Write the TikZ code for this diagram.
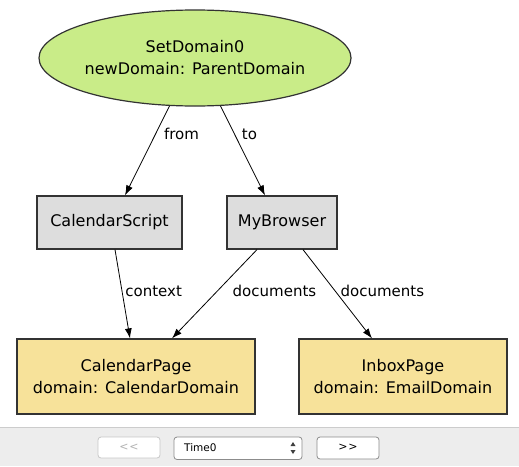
\documentclass[tikz,border=0pt]{standalone}
\usepackage{fontspec}
\setmainfont{DejaVu Sans}
\usepackage{xcolor}
\usetikzlibrary{shapes.geometric,arrows.meta,positioning,calc}
\definecolor{actgreen}{HTML}{C9EC88}
\definecolor{objgray}{HTML}{DDDDDD}
\definecolor{pageyellow}{HTML}{F7E29A}
\definecolor{edgeblack}{HTML}{333333}
\definecolor{barbg}{HTML}{EDEDED}

\begin{document}
\begin{tikzpicture}[x=1pt, y=-1pt,
    box/.style={draw=edgeblack, line width=1.2pt, align=center, inner sep=0pt, font=\fontsize{16}{22}\selectfont},
    rel/.style={-{Latex[length=10pt,width=7pt]}, black, line width=0.8pt},
    lbl/.style={anchor=west, inner sep=0pt, font=\fontsize{15}{18}\selectfont},
    btn/.style={draw=#1, fill=white, rounded corners=3pt, line width=0.8pt}]
      \useasboundingbox (0, 0) rectangle (519, 466);
      \fill [white] (0, 0) rectangle (519, 427);
      % the diagram
      \node (set_domain) [box, ellipse, fill=actgreen, minimum width=274pt, minimum height=96pt] at (195, 58)
      {SetDomain0\\newDomain: ParentDomain};
      \node (calendar_script) [box, fill=objgray, minimum width=145pt, minimum height=53pt] at (109.5, 222.5) {CalendarScript};
      \node (my_browser) [box, fill=objgray, minimum width=110pt, minimum height=53pt] at (282, 222.5) {MyBrowser};
      \node (calendar_page) [box, fill=pageyellow, minimum width=238pt, minimum height=75pt] at (136, 376.5)
      {CalendarPage\\domain: CalendarDomain};
      \node (inbox_page) [box, fill=pageyellow, minimum width=208pt, minimum height=75pt] at (403, 376.5)
      {InboxPage\\domain: EmailDomain};
      \draw [rel] (set_domain.242) to node [lbl, pos=0.31, xshift=8pt] {from} ([xshift=15.5pt]calendar_script.north);
      \draw [rel] (set_domain.298) to node [lbl, pos=0.315, xshift=7pt] {to} ([xshift=-17pt]my_browser.north);
      \draw [rel] ([xshift=5.5pt]calendar_script.south) to node [lbl, pos=0.467, xshift=3pt] {context} ([xshift=-6pt]calendar_page.north);
      \draw [rel] ([xshift=-25pt]my_browser.south) to node [lbl, pos=0.467, xshift=15pt] {documents} ([xshift=36pt]calendar_page.north);
      \draw [rel] ([xshift=21pt]my_browser.south) to node [lbl, pos=0.467, xshift=5pt] {documents} ([xshift=-31pt]inbox_page.north);
      % the time bar
      \fill [barbg] (0, 427.5) rectangle (519, 466);
      \draw [black!20, line width=1pt] (0, 427.5) -- (519, 427.5);
      \draw [btn=black!22] (98, 437) rectangle (160, 458);
      \node (prev_button) [text=black!30, font=\fontsize{11}{13}\selectfont] at (129, 447.5) {{<}\kern1pt{<}};
      \draw [btn=black!45] (174, 437) rectangle (302, 459.5);
      \node (time_box) [anchor=west, inner sep=0pt, font=\fontsize{10.5}{13}\selectfont] at (184, 448) {Time0};
      \fill [black!75] (290.5, 446) -- (295.5, 446) -- (293, 442) -- cycle;
      \fill [black!75] (290.5, 450) -- (295.5, 450) -- (293, 454) -- cycle;
      \draw [btn=black!45] (317, 437) rectangle (379, 459);
      \node (next_button) [font=\fontsize{11}{13}\selectfont] at (348, 447.5) {{>}\kern1pt{>}};
    \end{tikzpicture}
\end{document}
